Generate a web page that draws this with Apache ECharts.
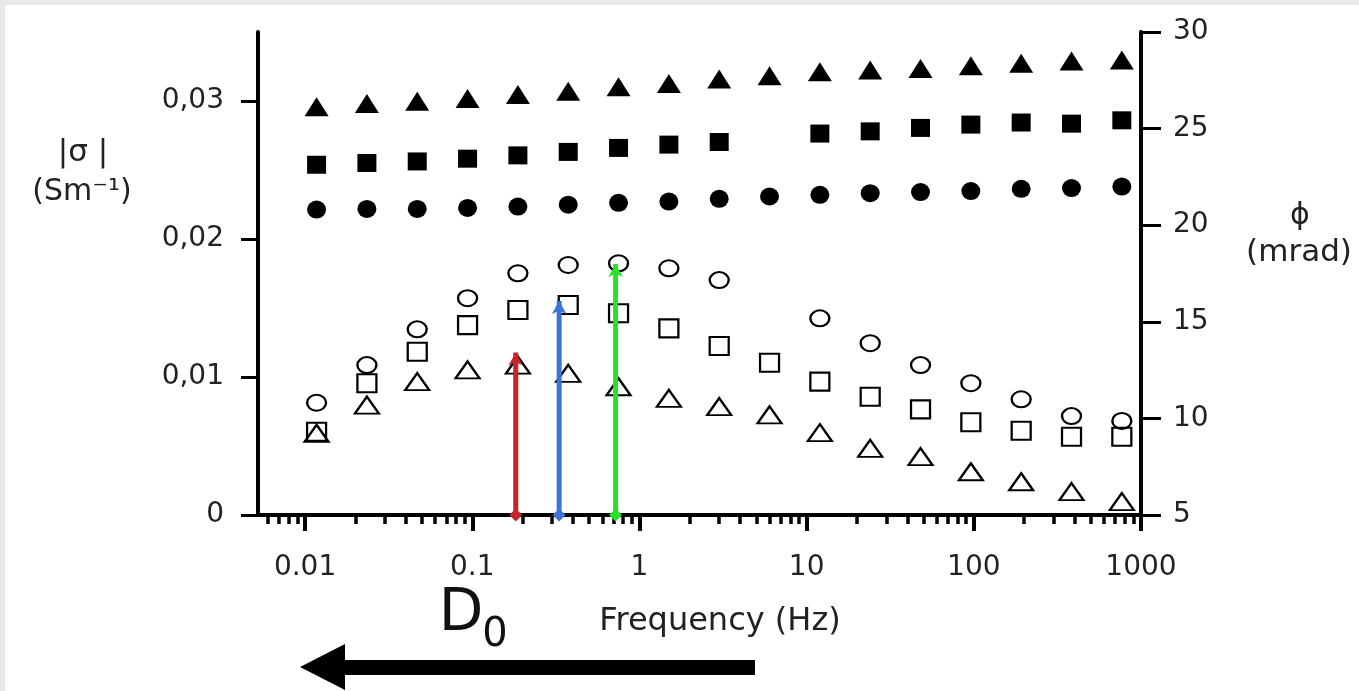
<!DOCTYPE html>
<html>
<head>
<meta charset="utf-8">
<script src="https://cdn.jsdelivr.net/npm/echarts@6/dist/echarts.min.js"></script>
<style>
  html, body { margin: 0; padding: 0; background: #fff; }
  #chart { width: 1359px; height: 691px; }
</style>
</head>
<body>
<div id="chart"></div>
<script>
// frequency in Hz (log axis)
const freq = [0.01171875, 0.0234375, 0.046875, 0.09375, 0.1875, 0.375, 0.75, 1.5, 3, 6, 12, 24, 48, 96, 192, 384, 768];

// |sigma| (S/m), filled markers, left axis
const sigTri = [0.02958, 0.02982, 0.02999, 0.03018, 0.03047, 0.03071, 0.03103, 0.03127, 0.03159, 0.03183, 0.03212, 0.03224, 0.03236, 0.03256, 0.03273, 0.03289, 0.03297];
const sigSq = [0.02538, 0.02551, 0.02562, 0.02582, 0.02606, 0.02631, 0.02660, 0.02684, 0.02703, null, 0.02764, 0.02780, 0.02805, 0.02829, 0.02844, 0.02836, 0.02860];
const sigCirc = [0.02213, 0.02218, 0.02218, 0.02225, 0.02235, 0.02249, 0.02262, 0.02271, 0.02291, 0.02308, 0.02320, 0.02332, 0.02340, 0.02347, 0.02364, 0.02369, 0.02380];

// phase (mrad), open markers, right axis
const phiCirc = [10.81, 12.76, 14.61, 16.22, 17.51, 17.94, 18.03, 17.77, 17.16, null, 15.18, 13.89, 12.76, 11.82, 10.99, 10.12, 9.87];
const phiSq = [9.31, 11.82, 13.45, 14.83, 15.61, 15.87, 15.44, 14.66, 13.75, 12.88, 11.90, 11.12, 10.47, 9.80, 9.36, 9.05, 9.05];
const phiTri = [9.23, 10.69, 11.90, 12.51, 12.76, 12.33, 11.64, 11.04, 10.61, 10.18, 9.26, 8.45, 8.02, 7.24, 6.72, 6.21, 5.69];

// marked frequencies (coloured arrows) and their tops on the left axis
const markFreq = [0.182, 0.331, 0.72];
const markTop = [0.01178, 0.01551, 0.01818];
const markColors = ['#c8242b', '#3d74da', '#2ae02a'];

// axis ticks
const xMajor = [0.01, 0.1, 1, 10, 100, 1000];
const xMinor = [];
[0.001, 0.01, 0.1, 1, 10, 100].forEach(d => {
    for (let k = 2; k <= 9; k++) xMinor.push(+(d * k).toPrecision(3));
});
const leftTicks = [0, 0.01, 0.02, 0.03];
const rightTicks = [5, 10, 15, 20, 25, 30];

const FONT = 'DejaVu Sans';
const INK = '#000';

const chart = echarts.init(document.getElementById('chart'));

const pairs = arr => freq.map((f, i) => [f, arr[i]]);

const filled = (name, data, symbol, size) => ({
    name, type: 'scatter', data: pairs(data), xAxisIndex: 0, yAxisIndex: 0,
    symbol, symbolSize: size,
    itemStyle: { color: '#000', opacity: 1 },
    z: 3
});
const open = (name, data, symbol, size) => ({
    name, type: 'scatter', data: pairs(data), xAxisIndex: 0, yAxisIndex: 1,
    symbol, symbolSize: size,
    itemStyle: { color: 'rgba(0,0,0,0)', borderColor: '#000', borderWidth: 2.2, opacity: 1 },
    z: 3
});

const arrows = markFreq.map((f, i) => ({
    name: 'mark' + i, type: 'line', xAxisIndex: 0, yAxisIndex: 0,
    data: [
        { value: [f, 0], symbol: 'diamond', symbolSize: 13 },
        { value: [f, markTop[i]], symbol: 'arrow', symbolSize: [11, 13] }
    ],
    showSymbol: true,
    lineStyle: { color: markColors[i], width: 5 },
    itemStyle: { color: markColors[i], opacity: 1 },
    z: 5
}));

chart.setOption({
    backgroundColor: '#fff',
    animation: false,
    grid: { left: 258, right: 218, top: 32, bottom: 176 },
    xAxis: [
        {
            type: 'log', logBase: 10, min: 0.00523, max: 1000,
            axisLine: { lineStyle: { color: INK, width: 4 } },
            axisTick: { show: true, length: 16, inside: false, customValues: xMajor, lineStyle: { color: INK, width: 4 } },
            axisLabel: {
                customValues: xMajor, margin: 39,
                fontFamily: FONT, fontSize: 28, color: '#222',
                formatter: v => String(v)
            },
            splitLine: { show: false }
        },
        {
            type: 'log', logBase: 10, min: 0.00523, max: 1000, position: 'bottom',
            axisLine: { show: false },
            axisTick: { show: true, length: 9, customValues: xMinor, lineStyle: { color: INK, width: 3.5 } },
            axisLabel: { show: false },
            splitLine: { show: false }
        }
    ],
    yAxis: [
        {
            type: 'value', min: 0, max: 0.035, position: 'left',
            axisLine: { show: true, lineStyle: { color: INK, width: 4 } },
            axisTick: { show: true, length: 17, customValues: leftTicks, lineStyle: { color: INK, width: 3 } },
            axisLabel: {
                customValues: leftTicks, margin: 34, padding: [4, 0, 0, 0],
                fontFamily: FONT, fontSize: 28, color: '#222',
                formatter: v => v === 0 ? '0' : v.toFixed(2).replace('.', ',')
            },
            splitLine: { show: false }
        },
        {
            type: 'value', min: 5, max: 30, interval: 5, position: 'right',
            axisLine: { show: true, lineStyle: { color: INK, width: 4 } },
            axisTick: { show: true, length: 20, customValues: rightTicks, lineStyle: { color: INK, width: 3 } },
            axisLabel: {
                customValues: rightTicks, margin: 32,
                fontFamily: FONT, fontSize: 28, color: '#222'
            },
            splitLine: { show: false }
        }
    ],
    graphic: [
        { type: 'rect', shape: { x: 0, y: 0, width: 1359, height: 5 }, style: { fill: '#e8e8e8' } },
        { type: 'rect', shape: { x: 0, y: 0, width: 5, height: 691 }, style: { fill: '#e8e8e8' } },
        { type: 'text', x: 83, y: 153, style: { text: '|σ |', font: '31px "DejaVu Sans"', fill: '#222', align: 'center', verticalAlign: 'middle' } },
        { type: 'text', x: 82, y: 192, style: { text: '(Sm⁻¹)', font: '30px "DejaVu Sans"', fill: '#222', align: 'center', verticalAlign: 'middle' } },
        { type: 'text', x: 1300, y: 216, style: { text: 'ϕ', font: '30px "DejaVu Sans"', fill: '#222', align: 'center', verticalAlign: 'middle' } },
        { type: 'text', x: 1299, y: 253, style: { text: '(mrad)', font: '31px "DejaVu Sans"', fill: '#222', align: 'center', verticalAlign: 'middle' } },
        { type: 'text', x: 720, y: 622, style: { text: 'Frequency (Hz)', font: '32px "DejaVu Sans"', fill: '#222', align: 'center', verticalAlign: 'middle' } },
        { type: 'text', x: 461, y: 615, style: { text: 'D', font: '58px "DejaVu Sans"', fill: '#111', align: 'center', verticalAlign: 'middle' } },
        { type: 'text', x: 495, y: 636, style: { text: '0', font: '40px "DejaVu Sans"', fill: '#111', align: 'center', verticalAlign: 'middle' } },
        {
            type: 'polygon',
            shape: { points: [[300, 667], [345, 644], [345, 660], [755, 660], [755, 675], [345, 675], [345, 690]] },
            style: { fill: '#000' }
        }
    ],
    series: [
        filled('sigma-tri', sigTri, 'triangle', [24, 19]),
        filled('sigma-sq', sigSq, 'rect', [19, 18]),
        filled('sigma-circ', sigCirc, 'circle', [19, 18]),
        open('phi-circ', phiCirc, 'circle', [19, 16]),
        open('phi-sq', phiSq, 'rect', [19, 18]),
        open('phi-tri', phiTri, 'triangle', [24, 17]),
        ...arrows
    ]
});
</script>
</body>
</html>
